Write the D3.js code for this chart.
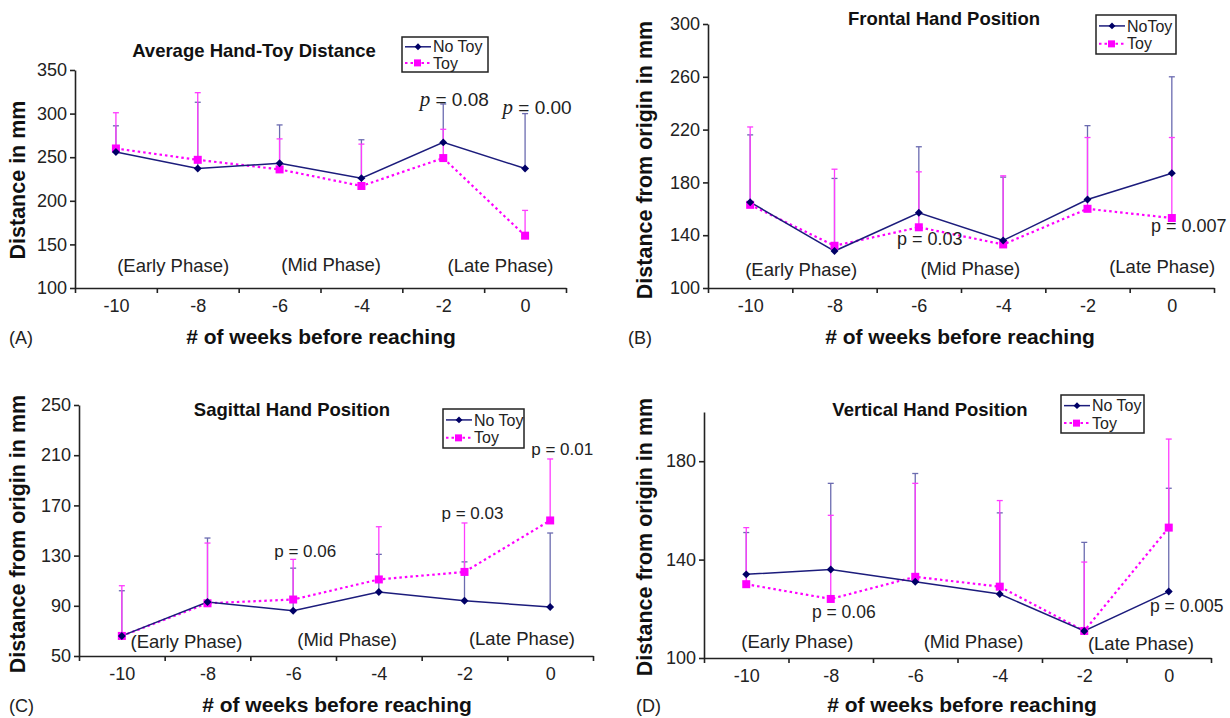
<!DOCTYPE html>
<html>
<head>
<meta charset="utf-8">
<script src="https://cdn.jsdelivr.net/npm/d3@7"></script>
<style>
  body { margin: 0; background: #fff; }
  svg { font-family: "Liberation Sans", Arial, sans-serif; }
</style>
</head>
<body>
<div id="chart"></div>
<script>
// weeks before reaching
const weeks = [-10, -8, -6, -4, -2, 0];

// (A) average hand-toy distance
const aNoToy    = [256, 237, 243, 226, 267, 237];
const aToy      = [260, 247, 236, 217, 249, 160];
const aNoToyTop = [286, 313, 287, 270, 311, 300];
const aToyTop   = [301, 324, 271, 265, 282, 189];
const aTicks    = [100, 150, 200, 250, 300, 350];

// (B) frontal hand position
const bNoToy    = [165, 128, 157, 136, 167, 187];
const bToy      = [163, 132, 146, 133, 160, 153];
const bNoToyTop = [216, 183, 207, 184, 223, 260];
const bToyTop   = [222, 190, 188, 185, 214, 214];
const bTicks    = [100, 140, 180, 220, 260, 300];

// (C) sagittal hand position
const cNoToy    = [66, 93, 86, 101, 94, 89];
const cToy      = [66, 92, 95, 111, 117, 158];
const cNoToyTop = [102, 144, 120, 131, 125, 148];
const cToyTop   = [106, 140, 127, 153, 156, 207];
const cTicks    = [50, 90, 130, 170, 210, 250];

// (D) vertical hand position
const dNoToy    = [134, 136, 131, 126, 111, 127];
const dToy      = [130, 124, 133, 129, 111, 153];
const dNoToyTop = [151, 171, 175, 159, 147, 169];
const dToyTop   = [153, 158, 171, 164, 139, 189];
const dTicks    = [100, 140, 180];

const phaseNames = ["(Early Phase)", "(Mid Phase)", "(Late Phase)"];

const noToyColor = "#1c1c7c", noToyBar = "#6b6bb0";
const toyColor = "#ff00ff", toyBar = "#ff3cff";

const panels = [
  { letter: "(A)", title: "Average Hand-Toy Distance", yLabel: "Distance in mm",
    noToy: aNoToy, toy: aToy, noToyTop: aNoToyTop, toyTop: aToyTop, ticks: aTicks, yDomain: [100, 350],
    names: ["No Toy", "Toy"], italicP: true, pSize: 19,
    left: 75, right: 566, top: 70, bottom: 288,
    titleAt: [254, 57], legend: [402, 37, 86, 35], yLabelAt: [18, 180], xLabelAt: [321, 344], letterAt: [9, 344],
    phases: [[-8.6, 118], [-4.74, 119], [-0.6, 118]],
    notes: [{ w: -2, v: 309, dx: 11, t: "0.08" }, { w: 0, v: 300, dx: 12, t: "0.00" }] },
  { letter: "(B)", title: "Frontal Hand Position", yLabel: "Distance from origin in mm",
    noToy: bNoToy, toy: bToy, noToyTop: bNoToyTop, toyTop: bToyTop, ticks: bTicks, yDomain: [100, 300],
    names: ["NoToy", "Toy"], italicP: false, pSize: 18,
    left: 708, right: 1214, top: 24, bottom: 288,
    titleAt: [944, 25], legend: [1096, 15, 80, 39], yLabelAt: [645, 160], xLabelAt: [960, 344], letterAt: [628, 344],
    phases: [[-8.79, 109], [-4.78, 110], [-0.23, 111]],
    notes: [{ w: -6, v: 132.5, dx: 11, t: "0.03" }, { w: 0, v: 142.5, dx: 17, t: "0.007" }] },
  { letter: "(C)", title: "Sagittal Hand Position", yLabel: "Distance from origin in mm",
    noToy: cNoToy, toy: cToy, noToyTop: cNoToyTop, toyTop: cToyTop, ticks: cTicks, yDomain: [50, 250],
    names: ["No Toy", "Toy"], italicP: false, pSize: 17,
    left: 79, right: 593, top: 405, bottom: 656,
    titleAt: [292, 416], legend: [443, 409, 81, 39], yLabelAt: [18, 534], xLabelAt: [337, 712], letterAt: [9, 712],
    phases: [[-8.49, 56.5], [-4.74, 58], [-0.66, 59]],
    notes: [{ w: -6, v: 129, dx: 12, t: "0.06" }, { w: -2, v: 159, dx: 8, t: "0.03" }, { w: 0, v: 210, dx: 12, t: "0.01" }] },
  { letter: "(D)", title: "Vertical Hand Position", yLabel: "Distance from origin in mm",
    noToy: dNoToy, toy: dToy, noToyTop: dNoToyTop, toyTop: dToyTop, ticks: dTicks, yDomain: [100, 200],
    names: ["No Toy", "Toy"], italicP: false, pSize: 17.5,
    left: 704, right: 1211, top: 412, bottom: 658,
    titleAt: [930, 416], legend: [1061, 395, 83, 38], yLabelAt: [645, 537], xLabelAt: [962, 712], letterAt: [636, 712],
    phases: [[-8.79, 104], [-4.62, 104], [-0.66, 103.2]],
    notes: [{ w: -8, v: 116.3, dx: 13, t: "0.06" }, { w: 0, v: 118.7, dx: 18, t: "0.005" }] }
];

const svg = d3.select("#chart").append("svg")
  .attr("width", 1230).attr("height", 718);

panels.forEach(drawPanel);

function drawPanel(p) {
  const g = svg.append("g");
  const x = d3.scaleLinear().domain([-11, 1]).range([p.left, p.right]);
  const y = d3.scaleLinear().domain(p.yDomain).range([p.bottom, p.top]);

  // y axis
  const yAxis = g.append("g")
    .attr("transform", "translate(" + p.left + ",0)")
    .call(d3.axisLeft(y).tickValues(p.ticks).tickSize(5).tickSizeOuter(0).tickPadding(3));
  // x axis: tick marks on the category boundaries, labels in the middle
  const xAxis = g.append("g")
    .attr("transform", "translate(0," + p.bottom + ")")
    .call(d3.axisBottom(x).tickValues(d3.range(-11, 2, 2)).tickFormat("").tickSize(5).tickSizeOuter(0));
  const xLabels = g.append("g")
    .attr("transform", "translate(0," + p.bottom + ")")
    .call(d3.axisBottom(x).tickValues(weeks).tickFormat(d => String(d)).tickSize(0).tickPadding(11));
  xLabels.select(".domain").remove();
  [yAxis, xAxis, xLabels].forEach(a => {
    a.selectAll("path, line").attr("stroke", "#222").attr("stroke-width", 1.6);
    a.selectAll("text").attr("font-size", 18).attr("fill", "#222")
      .attr("font-family", "Liberation Sans, Arial, sans-serif");
  });
  xLabels.selectAll("text").attr("dy", "0.71em");

  // error bars (upper only)
  const bars = [
    { mean: p.noToy, top: p.noToyTop, color: noToyBar },
    { mean: p.toy, top: p.toyTop, color: toyBar }
  ];
  bars.forEach(b => {
    weeks.forEach((w, i) => {
      g.append("line")
        .attr("x1", x(w)).attr("x2", x(w))
        .attr("y1", y(b.mean[i])).attr("y2", y(b.top[i]))
        .attr("stroke", b.color).attr("stroke-width", 1.3);
      g.append("line")
        .attr("x1", x(w) - 3).attr("x2", x(w) + 3)
        .attr("y1", y(b.top[i])).attr("y2", y(b.top[i]))
        .attr("stroke", b.color).attr("stroke-width", 1.3);
    });
  });

  const line = d3.line().x((d, i) => x(weeks[i])).y(d => y(d));

  g.append("path").datum(p.toy)
    .attr("d", line).attr("fill", "none")
    .attr("stroke", toyColor).attr("stroke-width", 2.2).attr("stroke-dasharray", "2.5,3");
  g.append("path").datum(p.noToy)
    .attr("d", line).attr("fill", "none")
    .attr("stroke", noToyColor).attr("stroke-width", 1.5);

  g.selectAll(".sq").data(p.toy).enter().append("rect")
    .attr("x", (d, i) => x(weeks[i]) - 4).attr("y", d => y(d) - 4)
    .attr("width", 8).attr("height", 8).attr("fill", toyColor);
  g.selectAll(".dm").data(p.noToy).enter().append("path")
    .attr("d", d3.symbol(d3.symbolDiamond2, 40))
    .attr("transform", (d, i) => "translate(" + x(weeks[i]) + "," + y(d) + ")")
    .attr("fill", "#000066");

  // titles
  g.append("text").attr("x", p.titleAt[0]).attr("y", p.titleAt[1])
    .attr("text-anchor", "middle").attr("font-weight", "bold").attr("font-size", 18.5)
    .attr("fill", "#111").text(p.title);
  g.append("text")
    .attr("transform", "translate(" + p.yLabelAt[0] + "," + p.yLabelAt[1] + ") rotate(-90)")
    .attr("text-anchor", "middle").attr("dominant-baseline", "central")
    .attr("font-weight", "bold").attr("font-size", 21.5).attr("fill", "#111").text(p.yLabel);
  g.append("text").attr("x", p.xLabelAt[0]).attr("y", p.xLabelAt[1])
    .attr("text-anchor", "middle").attr("font-weight", "bold").attr("font-size", 21)
    .attr("fill", "#111").text("# of weeks before reaching");
  g.append("text").attr("x", p.letterAt[0]).attr("y", p.letterAt[1])
    .attr("font-size", 18).attr("fill", "#222").text(p.letter);

  // phase labels
  p.phases.forEach((ph, i) => {
    g.append("text").attr("x", x(ph[0])).attr("y", y(ph[1]))
      .attr("text-anchor", "middle").attr("font-size", 18.5).attr("fill", "#222")
      .text(phaseNames[i]);
  });

  // p-values
  p.notes.forEach(n => {
    const t = g.append("text").attr("x", x(n.w) + n.dx).attr("y", y(n.v))
      .attr("text-anchor", "middle").attr("font-size", p.pSize).attr("fill", "#222");
    if (p.italicP) {
      t.append("tspan").attr("font-family", "Liberation Serif, serif").attr("font-style", "italic")
        .attr("font-size", p.pSize + 2).text("p");
      t.append("tspan").text(" = " + n.t);
    } else {
      t.text("p = " + n.t);
    }
  });

  // legend
  const [lx, ly, lw, lh] = p.legend;
  const lg = g.append("g").attr("transform", "translate(" + lx + "," + ly + ")");
  lg.append("rect").attr("width", lw).attr("height", lh)
    .attr("fill", "#fff").attr("stroke", "#222").attr("stroke-width", 1.5);
  const r1 = lh * 0.28, r2 = lh * 0.74;
  lg.append("line").attr("x1", 3).attr("x2", 29).attr("y1", r1).attr("y2", r1)
    .attr("stroke", noToyColor).attr("stroke-width", 1.5);
  lg.append("path").attr("d", d3.symbol(d3.symbolDiamond2, 30))
    .attr("transform", "translate(16," + r1 + ")").attr("fill", "#000066");
  lg.append("line").attr("x1", 3).attr("x2", 29).attr("y1", r2).attr("y2", r2)
    .attr("stroke", toyColor).attr("stroke-width", 2).attr("stroke-dasharray", "2.5,3");
  lg.append("rect").attr("x", 12).attr("y", r2 - 3.5).attr("width", 7).attr("height", 7).attr("fill", toyColor);
  lg.append("text").attr("x", 31).attr("y", r1).attr("dy", "0.35em")
    .attr("font-size", 16).attr("fill", "#222").text(p.names[0]);
  lg.append("text").attr("x", 31).attr("y", r2).attr("dy", "0.35em")
    .attr("font-size", 16).attr("fill", "#222").text(p.names[1]);
}
</script>
</body>
</html>
